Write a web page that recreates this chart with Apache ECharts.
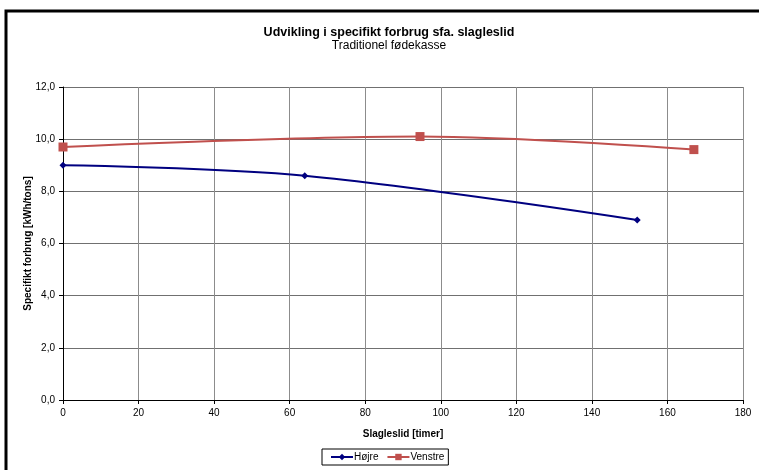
<!DOCTYPE html>
<html>
<head>
<meta charset="utf-8">
<script src="https://cdn.jsdelivr.net/npm/echarts@6/dist/echarts.min.js"></script>
<style>
  html, body { margin: 0; padding: 0; background: #fff; }
  #chart { width: 759px; height: 470px; }
</style>
</head>
<body>
<div id="chart"></div>
<script>
// Operating hours (x) and specific consumption (y) per side
const hojreHours = [0, 64, 152];
const hojreValues = [9.0, 8.6, 6.9];
const venstreHours = [0, 94.5, 167];
const venstreValues = [9.7, 10.1, 9.6];
const seriesNames = ['Højre', 'Venstre'];
const chartTitle = 'Udvikling i specifikt forbrug sfa. slagleslid';
const chartSubtitle = 'Traditionel fødekasse';
const xAxisTitle = 'Slagleslid [timer]';
const yAxisTitle = 'Specifikt forbrug [kWh/tons]';

const pair = (xs, ys) => xs.map((x, i) => [x, ys[i]]);
const FONT = 'Liberation Sans, Arial, sans-serif';

const chart = echarts.init(document.getElementById('chart'), null, { renderer: 'canvas' });
chart.setOption({
  animation: false,
  backgroundColor: '#fff',
  textStyle: { fontFamily: FONT },
  graphic: [
    {
      type: 'rect', silent: true, z: 0,
      shape: { x: 6, y: 11, width: 800, height: 500 },
      style: { fill: 'none', stroke: '#000', lineWidth: 3 }
    },
    {
      type: 'text', x: 389, y: 26, z: 10,
      style: { text: chartTitle, font: 'bold 12.5px ' + FONT, fill: '#000', align: 'center', verticalAlign: 'top' }
    },
    {
      type: 'text', x: 389, y: 40, z: 10,
      style: { text: chartSubtitle, font: '12px ' + FONT, fill: '#000', align: 'center', verticalAlign: 'top' }
    }
  ],
  grid: { left: 63, right: 16, top: 87, bottom: 70, containLabel: false },
  legend: {
    data: seriesNames,
    left: 322, top: 449,
    padding: [3, 4, 3, 8],
    itemGap: 8,
    itemWidth: 22, itemHeight: 8,
    borderColor: '#000', borderWidth: 1,
    borderRadius: 0,
    backgroundColor: '#fff',
    textStyle: { fontSize: 10, color: '#000', fontFamily: FONT, padding: [0, 0, 0, -4] }
  },
  xAxis: {
    type: 'value', min: 0, max: 180, interval: 20,
    name: xAxisTitle, nameLocation: 'middle', nameGap: 29,
    nameTextStyle: { fontWeight: 'bold', fontSize: 10, color: '#000' },
    axisLine: { show: true, lineStyle: { color: '#000', width: 1 } },
    axisTick: { show: true, length: 4, inside: false, lineStyle: { color: '#000' } },
    axisLabel: { fontSize: 10, color: '#000', margin: 8 },
    splitLine: { show: true, lineStyle: { color: '#8c8c8c', width: 1 } }
  },
  yAxis: {
    type: 'value', min: 0, max: 12, interval: 2,
    name: yAxisTitle, nameLocation: 'middle', nameGap: 30, nameRotate: 90,
    nameMoveOverlap: false,
    nameTextStyle: { fontWeight: 'bold', fontSize: 10, color: '#000' },
    axisLine: { show: true, lineStyle: { color: '#000', width: 1 } },
    axisTick: { show: true, length: 4, inside: false, lineStyle: { color: '#000' } },
    axisLabel: {
      fontSize: 10, color: '#000', margin: 8,
      formatter: v => v.toFixed(1).replace('.', ',')
    },
    splitLine: { show: true, lineStyle: { color: '#707070', width: 1 } }
  },
  series: [
    {
      name: seriesNames[0], type: 'line', smooth: 0.35,
      data: pair(hojreHours, hojreValues),
      symbol: 'diamond', symbolSize: 7,
      lineStyle: { color: '#000080', width: 2 },
      itemStyle: { color: '#000080' }
    },
    {
      name: seriesNames[1], type: 'line', smooth: 0.35,
      data: pair(venstreHours, venstreValues),
      symbol: 'rect', symbolSize: 9,
      lineStyle: { color: '#c0504d', width: 2 },
      itemStyle: { color: '#c0504d' }
    }
  ]
});
</script>
</body>
</html>
